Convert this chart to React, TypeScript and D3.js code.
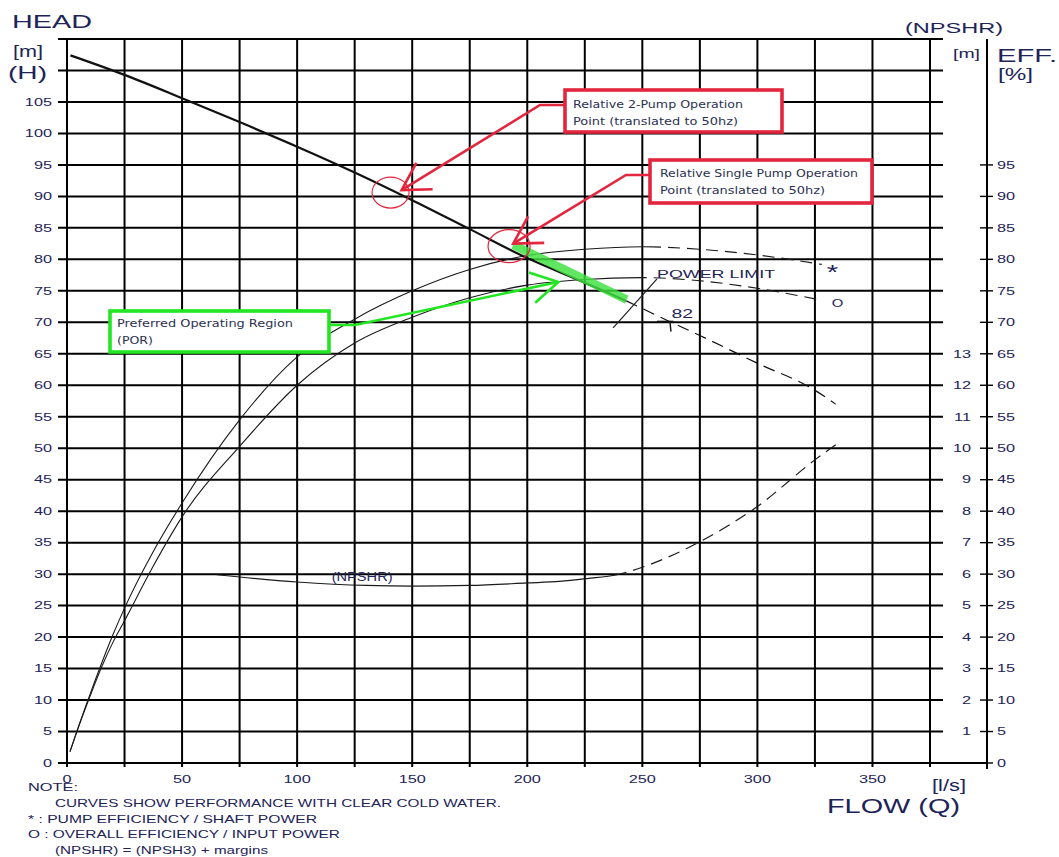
import React from "react";
import * as d3 from "d3";

const WIDTH = 1059;
const HEIGHT = 857;

// ---------- axes ----------
const flowGridValues = d3.range(0, 376, 25);
const flowTickLabels = [0, 50, 100, 150, 200, 250, 300, 350];
const headGridValues = d3.range(0, 116, 5);
const headTickLabels = d3.range(0, 106, 5);
const effTickLabels = d3.range(0, 96, 5);
const npshrTickLabels = d3.range(1, 14);
const npshrToHead = 5; // 1 m of NPSHR is drawn per 5 m of the head scale

// ---------- Q-H curve ----------
const headFlow = [1.5, 25, 50, 75, 100, 125, 150, 175, 200, 225, 243, 262, 275, 300, 325, 334];
const headValues = [112.4, 109.3, 105.6, 101.8, 97.9, 93.8, 89.4, 84.8, 80.2, 76.3, 73.4, 70.1, 67.9, 63.5, 59.2, 57.0];
const headDashFrom = 243;

// ---------- efficiency curves (%) ----------
const effFlow = [1.3, 5, 10, 15, 20, 25, 37.5, 50, 75, 100, 125, 150, 175, 200, 225, 250, 275, 300, 328];
const pumpEff = [1.8, 5.8, 10.9, 15.8, 20.4, 24.6, 33.6, 41.3, 54.5, 64.5, 70.5, 75.0, 78.4, 80.6, 81.6, 82.0, 81.6, 80.7, 79.2];
const overallEff = [1.8, 5.7, 10.6, 15.2, 19.2, 22.6, 31.3, 39.1, 50.3, 60.0, 66.7, 70.8, 73.9, 75.9, 76.8, 77.1, 76.6, 75.4, 73.5];
const pumpEffDashFrom = 255;
const overallEffDashFrom = 249;

// ---------- NPSHR (m) ----------
const npshrFlow = [65, 100, 130, 150, 175, 200, 214, 226, 239, 250, 275, 300, 325, 335];
const npshrValues = [5.98, 5.75, 5.64, 5.62, 5.64, 5.72, 5.77, 5.86, 5.98, 6.22, 7.03, 8.15, 9.63, 10.16];
const npshrDashFrom = 240;

// ---------- operating points & regions [flow, head] ----------
const twoPumpCircle = [140.6, 90.6];
const twoPumpTip = [145.4, 91.0];
const singlePumpCircle = [192.1, 82.1];
const singlePumpTip = [193.9, 82.5];
const porTip = [213.5, 76.4];
const porBand = [[193.9, 82.3], [243.2, 73.6]];
const powerLimit = [[237.3, 69.1], [256.4, 76.9]];
const bepFlow = 262;
const bepLabel = "82";

const noteLines = [
  "NOTE:",
  "CURVES SHOW PERFORMANCE WITH CLEAR COLD WATER.",
  "* : PUMP EFFICIENCY / SHAFT POWER",
  "O : OVERALL EFFICIENCY / INPUT POWER",
  "(NPSHR) = (NPSH3) + margins",
];

const FONT = "'Liberation Sans', Arial, sans-serif";
const ANN_FONT = "'DejaVu Sans', sans-serif";
const INK = "#1e2358";
const ANN_INK = "#2c3152";
const GRID = "#000";
const RED = "#e3263e";
const GREEN = "#22e622";

const x = d3.scaleLinear().domain([0, 375]).range([67, 930]);
const y = d3.scaleLinear().domain([0, 115]).range([763, 39]);

const curve = d3
  .line<[number, number]>()
  .x((d) => x(d[0]))
  .y((d) => y(d[1]))
  .curve(d3.curveMonotoneX);

function zip(a: number[], b: number[], k = 1): [number, number][] {
  return a.map((v, i) => [v, b[i] * k]);
}

function arrowHead(tx: number, ty: number, bx: number, by: number, len = 31, spread = Math.PI / 6) {
  const a = Math.atan2(by - ty, bx - tx);
  return `M${tx + len * Math.cos(a - spread)},${ty + len * Math.sin(a - spread)} L${tx},${ty} L${
    tx + len * Math.cos(a + spread)
  },${ty + len * Math.sin(a + spread)}`;
}

function SText(props: {
  x: number;
  y: number;
  size: number;
  sx?: number;
  anchor?: string;
  fill?: string;
  children: React.ReactNode;
}) {
  const { sx = 1.55, anchor = "start", fill = INK } = props;
  return (
    <text
      transform={`translate(${props.x},${props.y}) scale(${sx},1)`}
      fontSize={props.size}
      textAnchor={anchor}
      fill={fill}
      fontFamily={FONT}
    >
      {props.children}
    </text>
  );
}

function FitText(props: {
  x: number;
  y: number;
  size: number;
  width: number;
  fill?: string;
  font?: string;
  weight?: number | string;
  children: React.ReactNode;
}) {
  return (
    <text
      x={props.x}
      y={props.y}
      fontSize={props.size}
      textLength={props.width}
      lengthAdjust="spacingAndGlyphs"
      fill={props.fill ?? INK}
      fontFamily={props.font ?? FONT}
      fontWeight={props.weight ?? "normal"}
    >
      {props.children}
    </text>
  );
}

function SplitCurve(props: {
  id: string;
  pts: [number, number][];
  split: number;
  width: number;
  dashWidth?: number;
  color: string;
  dash: string;
}) {
  const d = curve(props.pts) || "";
  const sx = x(props.split);
  return (
    <g>
      <clipPath id={`${props.id}-solid`}>
        <rect x={0} y={0} width={sx} height={HEIGHT} />
      </clipPath>
      <clipPath id={`${props.id}-dash`}>
        <rect x={sx} y={0} width={WIDTH - sx} height={HEIGHT} />
      </clipPath>
      <path d={d} fill="none" stroke={props.color} strokeWidth={props.width} clipPath={`url(#${props.id}-solid)`} />
      <path
        d={d}
        fill="none"
        stroke={props.color}
        strokeWidth={props.dashWidth ?? props.width}
        strokeDasharray={props.dash}
        clipPath={`url(#${props.id}-dash)`}
      />
    </g>
  );
}

export default function App() {
  const headPts = zip(headFlow, headValues);
  const pumpPts = zip(effFlow, pumpEff);
  const overallPts = zip(effFlow, overallEff);
  const npshrPts = zip(npshrFlow, npshrValues, npshrToHead);

  const gridLeft = 58;
  const gridRight = 943;
  const axisRight = 987;
  const top = y(115);
  const bottom = y(0);

  const headAt = d3.scaleLinear().domain(headFlow).range(headValues);

  // annotation boxes (pixel layout)
  const twoBox = { x: 565, y: 90, w: 217, h: 42 };
  const oneBox = { x: 650, y: 160, w: 222, h: 43 };
  const porBox = { x: 110, y: 311, w: 219, h: 41 };

  const tpTip = [x(twoPumpTip[0]), y(twoPumpTip[1])];
  const tpElbow = [twoBox.x - 25, twoBox.y + 15];
  const spTip = [x(singlePumpTip[0]), y(singlePumpTip[1])];
  const spElbow = [oneBox.x - 24, oneBox.y + 15];
  const prTip = [x(porTip[0]), y(porTip[1])];
  const prElbow = [porBox.x + porBox.w + 26, porBox.y + 14];

  const plA = [x(powerLimit[0][0]), y(powerLimit[0][1])];
  const plB = [x(powerLimit[1][0]), y(powerLimit[1][1])];
  const bx = x(bepFlow);
  const by = y(headAt(bepFlow));

  const lastPump = pumpPts[pumpPts.length - 1];
  const lastOverall = overallPts[overallPts.length - 1];

  return (
    <svg
      width={WIDTH}
      height={HEIGHT}
      style={{ position: "absolute", left: 0, top: 0, background: "#fff" }}
    >
      <rect width={WIDTH} height={HEIGHT} fill="#fff" />

      {/* grid */}
      <g stroke={GRID} strokeWidth={2}>
        {flowGridValues.map((f) => (
          <line key={`v${f}`} x1={x(f)} x2={x(f)} y1={top} y2={bottom + 4} />
        ))}
        {headGridValues.map((h) => (
          <line key={`h${h}`} x1={gridLeft} x2={h === 0 ? axisRight : gridRight} y1={y(h)} y2={y(h)} />
        ))}
        <line x1={axisRight} x2={axisRight} y1={top} y2={bottom + 6} />
        {effTickLabels.map((e) => (
          <line key={`t${e}`} x1={axisRight - 7} x2={axisRight + 6} y1={y(e)} y2={y(e)} strokeWidth={1.4} />
        ))}
      </g>

      {/* left head labels */}
      {headTickLabels.map((h) => (
        <SText key={`lh${h}`} x={52} y={y(h) + 3.8} size={10.5} anchor="end">
          {h}
        </SText>
      ))}
      {/* right NPSHR and efficiency labels */}
      {npshrTickLabels.map((n) => (
        <SText key={`rn${n}`} x={971} y={y(n * npshrToHead) + 3.8} size={10.5} anchor="end">
          {n}
        </SText>
      ))}
      {effTickLabels.map((e) => (
        <SText key={`re${e}`} x={997} y={y(e) + 3.8} size={10.5}>
          {e}
        </SText>
      ))}
      {/* flow labels */}
      {flowTickLabels.map((f) => (
        <SText key={`fx${f}`} x={x(f)} y={783} size={10.5} anchor="middle">
          {f}
        </SText>
      ))}

      {/* axis titles */}
      <FitText x={12} y={28.3} size={18.5} width={80}>HEAD</FitText>
      <FitText x={13} y={56.5} size={16} width={30}>[m]</FitText>
      <FitText x={8} y={79} size={19} width={39}>(H)</FitText>
      <FitText x={905} y={32.8} size={15.5} width={98}>(NPSHR)</FitText>
      <FitText x={953} y={57.5} size={13} width={27}>[m]</FitText>
      <FitText x={997} y={61.7} size={19} width={60}>EFF.</FitText>
      <FitText x={998} y={80} size={16} width={35}>[%]</FitText>
      <FitText x={932} y={790.5} size={17} width={34}>[l/s]</FitText>
      <FitText x={827} y={813} size={19.5} width={133}>FLOW (Q)</FitText>

      {/* notes */}
      <FitText x={28} y={791} size={11.5} width={50}>{noteLines[0]}</FitText>
      <FitText x={55} y={807.3} size={11.5} width={446}>{noteLines[1]}</FitText>
      <FitText x={28} y={822.7} size={11.5} width={289}>{noteLines[2]}</FitText>
      <FitText x={28} y={838.3} size={11.5} width={312}>{noteLines[3]}</FitText>
      <FitText x={55} y={854} size={11.5} width={213}>{noteLines[4]}</FitText>

      {/* performance curves */}
      <SplitCurve id="npshr" pts={npshrPts} split={npshrDashFrom} width={1.2} color="#1a1a1a" dash="12,7" />
      <SplitCurve id="pumpEff" pts={pumpPts} split={pumpEffDashFrom} width={1.1} color="#1a1a1a" dash="12,7" />
      <SplitCurve id="overallEff" pts={overallPts} split={overallEffDashFrom} width={1.1} color="#1a1a1a" dash="12,7" />
      <SplitCurve id="head" pts={headPts} split={headDashFrom} width={2.2} dashWidth={1.2} color="#111" dash="12,7" />

      {/* curve labels */}
      <SText x={x(115)} y={581} size={12} sx={1.22}>(NPSHR)</SText>
      <SText x={x(lastPump[0]) + 5} y={y(lastPump[1]) + 14.5} size={21} sx={1.4}>*</SText>
      <SText x={x(lastOverall[0]) + 10} y={y(lastOverall[1]) + 6.5} size={11} sx={1.35}>O</SText>

      {/* power limit */}
      <line x1={plA[0]} y1={plA[1]} x2={plB[0]} y2={plB[1]} stroke="#222" strokeWidth={1.2} />
      <FitText x={plB[0]} y={plB[1] - 0.7} size={11.5} width={118}>POWER LIMIT</FitText>

      {/* best efficiency mark */}
      <g stroke="#111" strokeWidth={1.4}>
        <line x1={bx - 13} x2={bx + 3.5} y1={by} y2={by} strokeWidth={2} />
        <line x1={bx} x2={bx + 1} y1={by} y2={by + 10} />
      </g>
      <SText x={bx + 1.5} y={by - 3.5} size={13.5} sx={1.44}>{bepLabel}</SText>

      {/* preferred operating region band */}
      <line
        x1={x(porBand[0][0])}
        y1={y(porBand[0][1])}
        x2={x(porBand[1][0])}
        y2={y(porBand[1][1])}
        stroke="#3de03d"
        strokeOpacity={0.82}
        strokeWidth={8.5}
      />

      {/* operation point markers */}
      <ellipse cx={x(twoPumpCircle[0])} cy={y(twoPumpCircle[1])} rx={18.5} ry={15.5} fill="none" stroke={RED} strokeWidth={1.2} />
      <ellipse cx={x(singlePumpCircle[0])} cy={y(singlePumpCircle[1])} rx={21} ry={16.5} fill="none" stroke={RED} strokeWidth={1.2} />

      {/* 2-pump callout */}
      <g fill="none" stroke={RED} strokeWidth={2.6}>
        <polyline points={`${twoBox.x},${tpElbow[1]} ${tpElbow[0]},${tpElbow[1]} ${tpTip[0]},${tpTip[1]}`} />
        <path d={arrowHead(tpTip[0], tpTip[1], tpElbow[0], tpElbow[1])} />
        <rect x={twoBox.x} y={twoBox.y} width={twoBox.w} height={twoBox.h} fill="#fff" strokeWidth={3.6} />
      </g>
      <FitText x={573} y={108} size={11} width={170} fill={ANN_INK} font={ANN_FONT}>Relative 2-Pump Operation</FitText>
      <FitText x={573} y={125} size={11} width={165} fill={ANN_INK} font={ANN_FONT}>Point (translated to 50hz)</FitText>

      {/* single pump callout */}
      <g fill="none" stroke={RED} strokeWidth={2.6}>
        <polyline points={`${oneBox.x},${spElbow[1]} ${spElbow[0]},${spElbow[1]} ${spTip[0]},${spTip[1]}`} />
        <path d={arrowHead(spTip[0], spTip[1], spElbow[0], spElbow[1])} />
        <rect x={oneBox.x} y={oneBox.y} width={oneBox.w} height={oneBox.h} fill="#fff" strokeWidth={3.6} />
      </g>
      <FitText x={660} y={177} size={11} width={198} fill={ANN_INK} font={ANN_FONT}>Relative Single Pump Operation</FitText>
      <FitText x={660} y={193.5} size={11} width={165} fill={ANN_INK} font={ANN_FONT}>Point (translated to 50hz)</FitText>

      {/* preferred operating region callout */}
      <g fill="none" stroke={GREEN} strokeWidth={2.6}>
        <polyline points={`${porBox.x + porBox.w},${prElbow[1]} ${prElbow[0]},${prElbow[1]} ${prTip[0]},${prTip[1]}`} />
        <path d={arrowHead(prTip[0], prTip[1], prElbow[0], prElbow[1])} />
        <rect x={porBox.x} y={porBox.y} width={porBox.w} height={porBox.h} fill="#fff" strokeWidth={3.6} />
      </g>
      <FitText x={117} y={327} size={11} width={176} fill={ANN_INK} font={ANN_FONT}>Preferred Operating Region</FitText>
      <FitText x={117} y={344} size={11} width={36} fill={ANN_INK} font={ANN_FONT}>(POR)</FitText>
    </svg>
  );
}
